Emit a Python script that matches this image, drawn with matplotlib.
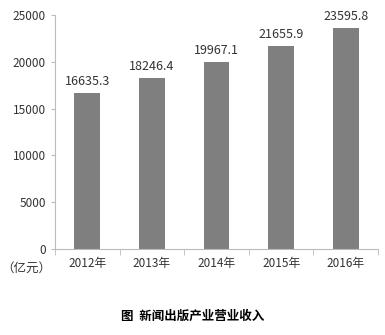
import matplotlib
matplotlib.use("Agg")
import matplotlib.pyplot as plt
import numpy as np

plt.rcParams['font.family'] = ['Noto Sans CJK SC', 'DejaVu Sans']

# data
years = ["2012年", "2013年", "2014年", "2015年", "2016年"]
revenue = [16635.3, 18246.4, 19967.1, 21655.9, 23595.8]
yticks = [0, 5000, 10000, 15000, 20000, 25000]

fig = plt.figure(figsize=(3.85, 3.35), dpi=100)
ax = fig.add_axes([0.143, 0.257, 0.839, 0.698])

x = np.arange(len(years))
ax.bar(x, revenue, width=0.4, color="#7f7f7f")
for xi, v in zip(x, revenue):
    ax.text(xi, v + 600, f"{v:.1f}", ha="center", va="bottom", fontsize=9, color="#333333")

ax.set_xlim(-0.5, len(years) - 0.5)
ax.set_ylim(0, 25000)
ax.set_yticks(yticks)
ax.tick_params(axis="y", labelsize=8.5, length=3, color="#bbbbbb", labelcolor="#333333")
ax.set_xticks(x)
ax.set_xticklabels(years, fontsize=8.5, color="#333333")
ax.tick_params(axis="x", length=0, pad=6)
# boundary ticks
ax.set_xticks(np.arange(-0.5, len(years)), minor=True)
ax.tick_params(axis="x", which="minor", length=4, color="#bbbbbb")

for s in ["top", "right"]:
    ax.spines[s].set_visible(False)
ax.spines["left"].set_color("#bbbbbb")
ax.spines["bottom"].set_color("#bbbbbb")

fig.text(0.003, 0.2, "（亿元）", fontsize=9, color="#333333", va="center")
fig.text(0.5, 0.055, "图  新闻出版产业营业收入", fontsize=9, fontweight="bold", ha="center", va="center")

fig.savefig("out.png", dpi=100)
